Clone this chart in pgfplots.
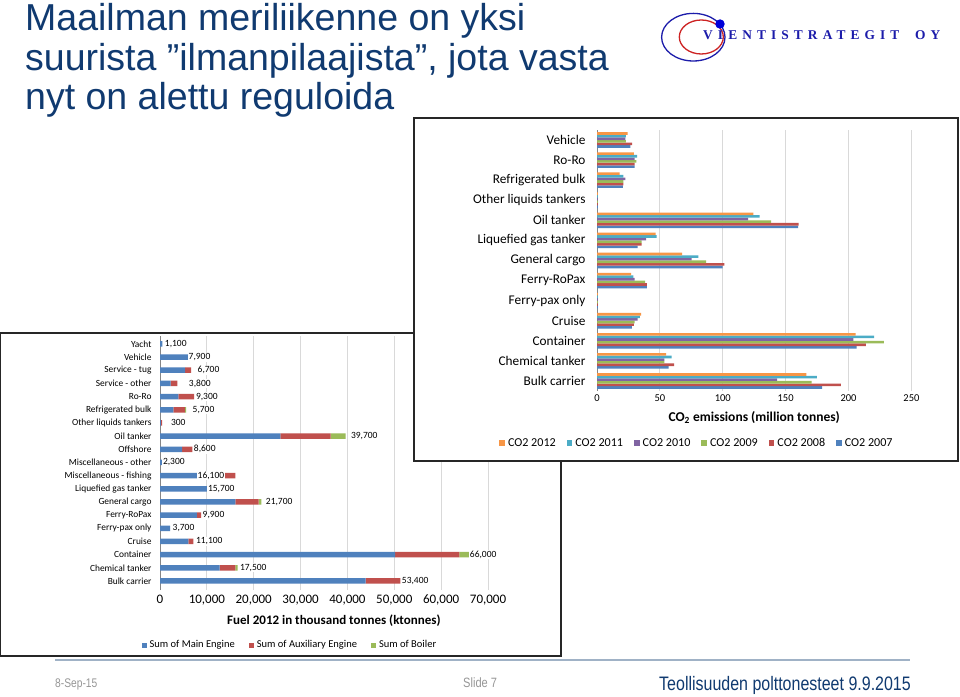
\documentclass[border=0pt]{standalone}
\usepackage{fontspec}
\usepackage{pgfplots}
\usepackage{pgfplotstable}
\pgfplotsset{compat=1.18}
\setmainfont{Carlito}
\newfontfamily\titlefont{Liberation Sans}
\newfontfamily\narrowfont[FakeStretch=0.82]{Liberation Sans}
\newfontfamily\logofont[LetterSpace=38]{Liberation Serif}
\definecolor{xblue}{HTML}{4F81BD}
\definecolor{xred}{HTML}{C0504D}
\definecolor{xgreen}{HTML}{9BBB59}
\definecolor{xpurple}{HTML}{8064A2}
\definecolor{xaqua}{HTML}{4BACC6}
\definecolor{xorange}{HTML}{F79646}
\definecolor{titleblue}{RGB}{16,58,112}
\definecolor{gridgray}{HTML}{D9D9D9}
\definecolor{axisgray}{HTML}{868686}
\definecolor{footline}{RGB}{160,178,198}
\definecolor{logoblue}{RGB}{28,28,170}
\definecolor{logored}{RGB}{205,35,35}
\definecolor{footgray}{RGB}{150,150,150}
\tikzset{lbl/.style={anchor=west, fill=white, inner sep=0.8pt, font=\fontsize{9.5}{10}\selectfont},
  ttl/.style={anchor=base west, inner sep=0pt, text=titleblue, font=\titlefont\fontsize{37.5}{40}\selectfont}}

\pgfplotstableread{
y main aux boiler
0 43900 7400 0
1 12700 3370 500
2 50200 13700 2000
3 6070 1070 0
4 2140 0 0
5 7860 940 0
6 16070 5000 570
7 15400 300 0
8 13000 3100 0
9 2000 300 0
10 4710 2220 0
11 25700 10730 3210
12 200 230 0
13 2860 2430 280
14 3930 3360 0
15 2290 1420 0
16 5360 1280 0
17 7900 0 0
18 500 0 0
}\fueltab

\pgfplotstableread{
y c2007 c2008 c2009 c2010 c2011 c2012
0 179.0 194.0 170.6 143.2 174.8 166.5
1 56.9 61.3 53.6 53.6 59.4 54.9
2 206.4 213.7 228.1 203.9 220.3 205.6
3 27.7 29.4 30.0 32.2 34.1 35.0
4 0.6 0.6 0.6 0.6 0.6 0.6
5 39.7 39.7 38.3 30.0 28.9 27.2
6 99.9 101.3 86.8 75.2 80.7 67.7
7 32.2 35.5 35.5 39.1 47.4 46.6
8 160.0 160.4 138.5 120.1 129.3 124.3
9 0.6 0.6 0.6 0.6 0.6 0.6
10 20.5 21.0 21.0 22.5 21.0 18.0
11 30.0 30.0 31.4 30.0 31.9 29.4
12 26.6 28.0 23.0 22.5 23.0 24.4
}\cootab

\begin{document}
\begin{tikzpicture}[x=1pt,y=1pt]
\useasboundingbox (0,0) rectangle (960,696);
\fill[white] (0,0) rectangle (960,696);

% title
\node[ttl] at (25,665) {Maailman meriliikenne on yksi};
\node[ttl] at (25,625.5) {suurista ”ilmanpilaajista”, jota vasta};
\node[ttl] at (25,586) {nyt on alettu reguloida};

% logo
\draw[logoblue, line width=1.3pt] (693.3,658.8) ellipse [x radius=31.7, y radius=23.8];
\draw[logored, line width=1.3pt] (701.3,659) ellipse [x radius=22, y radius=17];
\fill[blue!85!black] (720,672) circle (4.7);
\node[anchor=base west, inner sep=0pt, text=logoblue] at (703,656.7) {\logofont\bfseries\fontsize{13.4}{14}\selectfont VIENTISTRATEGIT};
\node[anchor=base west, inner sep=0pt, text=logoblue] at (915,656.7) {\logofont\bfseries\fontsize{13.4}{14}\selectfont OY};

% footer
\draw[footline, line width=2pt] (55,36) -- (910,36);
\node[anchor=base west, inner sep=0pt, text=footgray] at (55,8.5) {\narrowfont\fontsize{12.5}{14}\selectfont 8-Sep-15};
\node[anchor=base west, inner sep=0pt, text=footgray] at (463,8.5) {\narrowfont\fontsize{13.5}{15}\selectfont Slide 7};
\node[anchor=base east, inner sep=0pt, text=titleblue] at (911,6) {\narrowfont\fontsize{19.5}{22}\selectfont Teollisuuden polttonesteet 9.9.2015};

% left chart
\draw[black!85, line width=1.3pt, fill=white] (0.8,363) rectangle (561,40);
\begin{axis}[
  at={(160pt,105.8pt)}, anchor=south west, scale only axis,
  width=328pt, height=254.2pt,
  xbar stacked, bar width=5.5pt,
  xmin=0, xmax=70000, ymin=-0.7, ymax=18.6,
  xtick={0,10000,20000,30000,40000,50000,60000,70000}, ytick={0,...,18},
  yticklabels={Bulk carrier, Chemical tanker, Container, Cruise, Ferry-pax only, Ferry-RoPax, General cargo, Liquefied gas tanker, Miscellaneous - fishing, Miscellaneous - other, Offshore, Oil tanker, Other liquids tankers, Refrigerated bulk, Ro-Ro, Service - other, Service - tug, Vehicle, Yacht},
  scaled x ticks=false,
  xticklabel style={font=\fontsize{13}{14}\selectfont, yshift=-1pt, /pgf/number format/fixed, /pgf/number format/1000 sep={,}, /pgf/number format/assume math mode=true},
  yticklabel style={font=\fontsize{9.4}{10}\selectfont, xshift=-5pt},
  axis lines*=left, x axis line style={draw=none}, y axis line style={axisgray},
  xtick style={draw=none}, ytick style={draw=none},
  major tick length=0pt,
  xmajorgrids, grid style={gridgray, line width=0.8pt},
  xlabel={Fuel 2012 in thousand tonnes (ktonnes)},
  xlabel style={at={(axis description cs:0.53,-0.118)}, anchor=center, font=\bfseries\fontsize{13}{14}\selectfont},
  legend style={at={(0.396,-0.2156)}, anchor=center, draw=none, fill=none, legend columns=-1,
    font=\fontsize{10.5}{12}\selectfont,
    /tikz/every odd column/.append style={column sep=1pt},
    /tikz/every even column/.append style={column sep=12pt}},
  legend image code/.code={\fill[#1] (0pt,-2.5pt) rectangle (5pt,2.5pt);},
  clip=false,
]
\addplot[fill=xblue, draw=none] table[x=main, y=y] {\fueltab};
\addplot[fill=xred, draw=none] table[x=aux, y=y] {\fueltab};
\addplot[fill=xgreen, draw=none] table[x=boiler, y=y] {\fueltab};
\legend{Sum of Main Engine, Sum of Auxiliary Engine, Sum of Boiler}
\end{axis}
% data labels, drawn over the bars
\begin{axis}[
  at={(160pt,105.8pt)}, anchor=south west, scale only axis,
  width=328pt, height=254.2pt,
  xmin=0, xmax=70000, ymin=-0.7, ymax=18.6,
  hide axis, clip=false,
]
\node[lbl] at (axis cs:850,18) {1,100};
\node[lbl] at (axis cs:5910,17) {7,900};
\node[lbl] at (axis cs:7830,16) {6,700};
\node[lbl] at (axis cs:5975,15) {3,800};
\node[lbl] at (axis cs:7470,14) {9,300};
\node[lbl] at (axis cs:6765,13) {5,700};
\node[lbl] at (axis cs:2134,12) {300};
\node[lbl] at (axis cs:40550,11) {39,700};
\node[lbl] at (axis cs:7040,10) {8,600};
\node[lbl] at (axis cs:427,9) {2,300};
\node[lbl] at (axis cs:7830,8) {16,100};
\node[lbl] at (axis cs:10030,7) {15,700};
\node[lbl] at (axis cs:22400,6) {21,700};
\node[lbl] at (axis cs:8900,5) {9,900};
\node[lbl] at (axis cs:2500,4) {3,700};
\node[lbl] at (axis cs:7470,3) {11,100};
\node[lbl] at (axis cs:65940,2) {66,000};
\node[lbl] at (axis cs:16860,1) {17,500};
\node[lbl] at (axis cs:51430,0) {53,400};
\end{axis}

% right chart
\draw[black!85, line width=1.3pt, fill=white] (414,578) rectangle (958,235);
\begin{axis}[
  at={(597pt,305pt)}, anchor=south west, scale only axis,
  width=314.4pt, height=261pt,
  xbar=0pt, bar width=2.6pt,
  xmin=0, xmax=250, ymin=-0.5, ymax=12.5,
  xtick={0,50,100,150,200,250}, ytick={0,...,12},
  yticklabels={Bulk carrier, Chemical tanker, Container, Cruise, Ferry-pax only, Ferry-RoPax, General cargo, Liquefied gas tanker, Oil tanker, Other liquids tankers, Refrigerated bulk, Ro-Ro, Vehicle},
  xticklabel style={font=\fontsize{10.5}{12}\selectfont, /pgf/number format/assume math mode=true},
  yticklabel style={font=\fontsize{13.3}{14}\selectfont, xshift=-8pt},
  axis lines*=left, x axis line style={draw=none}, y axis line style={axisgray},
  xtick style={draw=none}, ytick style={draw=none},
  major tick length=0pt,
  xmajorgrids, grid style={gridgray, line width=0.8pt},
  xlabel={CO\textsubscript{2} emissions (million tonnes)},
  xlabel style={at={(axis description cs:0.5,-0.103)}, anchor=center, font=\bfseries\fontsize{13.5}{15}\selectfont},
  legend style={at={(0.318,-0.199)}, anchor=center, draw=none, fill=none, legend columns=-1,
    font=\fontsize{12.1}{13}\selectfont,
    /tikz/every odd column/.append style={column sep=1pt},
    /tikz/every even column/.append style={column sep=9pt}},
  legend image code/.code={\fill[#1] (0pt,-2.8pt) rectangle (5.6pt,2.8pt);},
  reverse legend,
]
\addplot[fill=xblue, draw=none] table[x=c2007, y=y] {\cootab};
\addplot[fill=xred, draw=none] table[x=c2008, y=y] {\cootab};
\addplot[fill=xgreen, draw=none] table[x=c2009, y=y] {\cootab};
\addplot[fill=xpurple, draw=none] table[x=c2010, y=y] {\cootab};
\addplot[fill=xaqua, draw=none] table[x=c2011, y=y] {\cootab};
\addplot[fill=xorange, draw=none] table[x=c2012, y=y] {\cootab};
\legend{CO2 2007, CO2 2008, CO2 2009, CO2 2010, CO2 2011, CO2 2012}
\end{axis}
\end{tikzpicture}
\end{document}
